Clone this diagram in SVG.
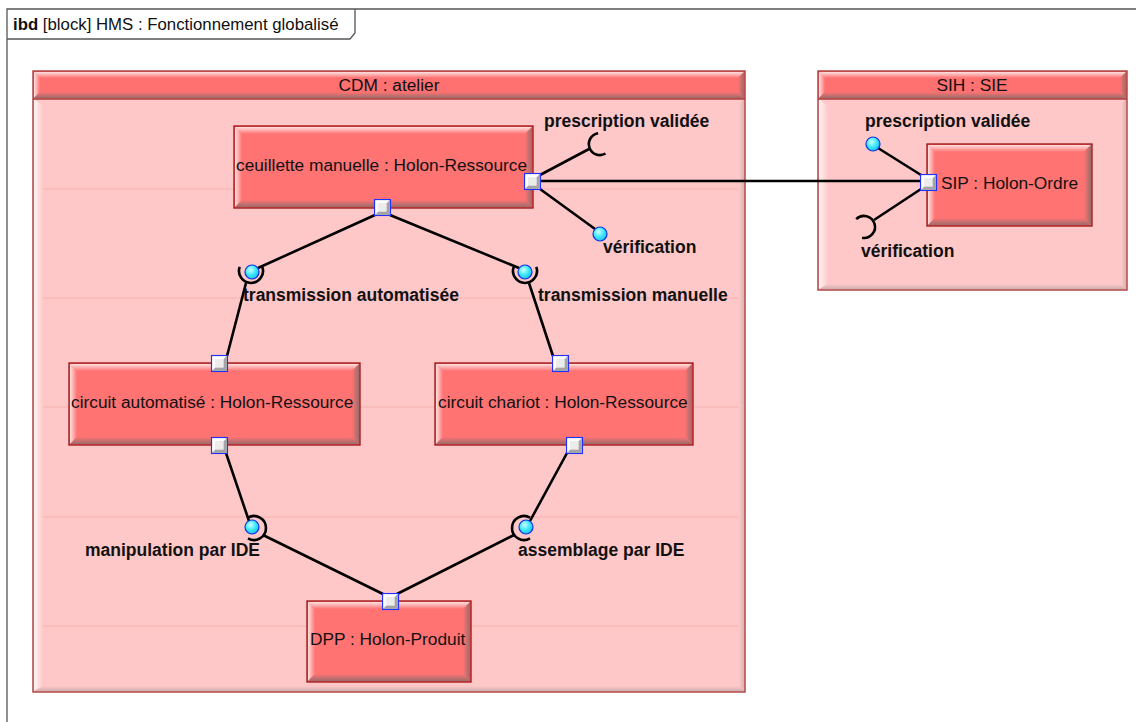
<svg xmlns="http://www.w3.org/2000/svg" width="1136" height="722" viewBox="0 0 1136 722">
<style>
.frame{fill:none;stroke:#555;stroke-width:1.3}
.cbody{fill:#ffc8c8}
.cedge{fill:none;stroke:#a83c3c;stroke-width:1.4}
.chead{fill:#ff7070}
.node{fill:#ff7373}
.nedge{fill:none;stroke:#9a1010;stroke-width:1.3}
.seam{stroke:#f7b0b0;stroke-width:1}
.t{font-family:"Liberation Sans",Arial,sans-serif;font-size:17.3px;fill:#111}
.tb{font-family:"Liberation Sans",Arial,sans-serif;font-size:17.5px;font-weight:bold;fill:#111}
.th{font-family:"Liberation Sans",Arial,sans-serif;font-size:17.3px;fill:#111;text-anchor:middle}
.c{fill:none;stroke:#000;stroke-width:2.6}
.sock{fill:none;stroke:#000;stroke-width:2.6}
.lol{fill:url(#cy);stroke:#1030e0;stroke-width:1.2}
</style>
<defs>
<radialGradient id="cy" cx="0.4" cy="0.35" r="0.7">
<stop offset="0" stop-color="#d0ffff"/>
<stop offset="0.5" stop-color="#40eaff"/>
<stop offset="1" stop-color="#18b8e8"/>
</radialGradient>
<linearGradient id="gT" x1="0" y1="0" x2="0" y2="1"><stop offset="0" stop-color="#ffe0e0"/><stop offset="1" stop-color="#ff7373"/></linearGradient>
<linearGradient id="gL" x1="0" y1="0" x2="1" y2="0"><stop offset="0" stop-color="#ffe0e0"/><stop offset="1" stop-color="#ff7373"/></linearGradient>
<linearGradient id="gB" x1="0" y1="0" x2="0" y2="1"><stop offset="0" stop-color="#ff7373"/><stop offset="1" stop-color="#9c6c6c"/></linearGradient>
<linearGradient id="gR" x1="0" y1="0" x2="1" y2="0"><stop offset="0" stop-color="#ff7373"/><stop offset="1" stop-color="#9c6c6c"/></linearGradient>
<linearGradient id="bL" x1="0" y1="0" x2="1" y2="0"><stop offset="0" stop-color="#fff4f4"/><stop offset="1" stop-color="#ffc8c8"/></linearGradient>
<linearGradient id="bB" x1="0" y1="0" x2="0" y2="1"><stop offset="0" stop-color="#ffc8c8"/><stop offset="1" stop-color="#d0b0b0"/></linearGradient>
<linearGradient id="bR" x1="0" y1="0" x2="1" y2="0"><stop offset="0" stop-color="#ffc8c8"/><stop offset="1" stop-color="#d8b4b4"/></linearGradient>
<symbol id="port" viewBox="0 0 17 17" width="17" height="17" overflow="visible">
<rect x="0.6" y="0.6" width="15.8" height="15.8" fill="#d8d8d8" stroke="#2030ff" stroke-width="1.3"/>
<polygon points="1.3,1.3 15.7,1.3 12.5,4.5 4.5,4.5 4.5,12.5 1.3,15.7" fill="#ffffff"/>
<polygon points="15.7,1.3 15.7,15.7 1.3,15.7 4.5,12.5 12.5,12.5 12.5,4.5" fill="#a4a4a4"/>
<rect x="4.5" y="4.5" width="8" height="8" fill="#ececec"/>
</symbol>
</defs>
<rect width="1136" height="722" fill="#fff"/>
<g id="frame">
<path class="frame" d="M7,722 V9 H1136"/>
<path class="frame" d="M7,39 H350 L355,33 V9"/>
<text x="13" y="30" font-family="'Liberation Sans',Arial,sans-serif" font-size="16.8" fill="#111"><tspan font-weight="bold">ibd</tspan> [block] HMS : Fonctionnement globalisé</text>
</g>
<g id="cdm">
<rect class="cbody" x="33" y="71" width="712" height="621"/>
<polygon fill="url(#bL)" points="34,99 43,106 43,686 34,691"/>
<polygon fill="url(#bB)" points="34,691 43,686 739,686 744,691"/>
<polygon fill="url(#bR)" points="739,104 744,99 744,691 739,686"/>
<line class="seam" x1="43" y1="189" x2="739" y2="189"/>
<line class="seam" x1="43" y1="298" x2="739" y2="298"/>
<line class="seam" x1="43" y1="407" x2="739" y2="407"/>
<line class="seam" x1="43" y1="517" x2="739" y2="517"/>
<line class="seam" x1="43" y1="626" x2="739" y2="626"/>
<rect class="chead" x="33" y="71" width="712" height="28"/>
<polygon fill="url(#gT)" points="34,72 744,72 738,78 40,78"/>
<polygon fill="url(#gL)" points="34,72 40,78 40,92 34,98"/>
<polygon fill="url(#gB)" points="34,98 40,92 738,92 744,98"/>
<polygon fill="url(#gR)" points="744,72 744,98 738,92 738,78"/>
<rect class="cedge" x="33" y="71" width="712" height="621"/>
<line class="cedge" x1="33" y1="99" x2="745" y2="99"/>
<text class="th" x="389" y="91">CDM : atelier</text>
</g>
<g id="sih">
<rect class="cbody" x="818" y="71" width="309" height="219"/>
<polygon fill="url(#bL)" points="819,99 828,106 828,284 819,289"/>
<polygon fill="url(#bB)" points="819,289 828,284 1121,284 1126,289"/>
<polygon fill="url(#bR)" points="1121,104 1126,99 1126,289 1121,284"/>
<rect class="chead" x="818" y="71" width="309" height="28"/>
<polygon fill="url(#gT)" points="819,72 1126,72 1120,78 825,78"/>
<polygon fill="url(#gL)" points="819,72 825,78 825,92 819,98"/>
<polygon fill="url(#gB)" points="819,98 825,92 1120,92 1126,98"/>
<polygon fill="url(#gR)" points="1126,72 1126,98 1120,92 1120,78"/>
<rect class="cedge" x="818" y="71" width="309" height="219"/>
<line class="cedge" x1="818" y1="99" x2="1127" y2="99"/>
<text class="th" x="972" y="91">SIH : SIE</text>
</g>
<g id="n-ceuillette">
<rect class="node" x="234" y="126" width="299" height="82"/>
<polygon fill="url(#gT)" points="235,127 532,127 525,134 242,134"/>
<polygon fill="url(#gL)" points="235,127 242,134 242,200 235,207"/>
<polygon fill="url(#gB)" points="235,207 242,200 525,200 532,207"/>
<polygon fill="url(#gR)" points="532,127 532,207 525,200 525,134"/>
<rect class="nedge" x="234" y="126" width="299" height="82"/>
<text class="t" x="236" y="171">ceuillette manuelle : Holon-Ressource</text>
</g>
<g id="n-circuit-auto">
<rect class="node" x="69" y="363" width="291" height="82"/>
<polygon fill="url(#gT)" points="70,364 359,364 352,371 77,371"/>
<polygon fill="url(#gL)" points="70,364 77,371 77,437 70,444"/>
<polygon fill="url(#gB)" points="70,444 77,437 352,437 359,444"/>
<polygon fill="url(#gR)" points="359,364 359,444 352,437 352,371"/>
<rect class="nedge" x="69" y="363" width="291" height="82"/>
<text class="t" x="71" y="408">circuit automatisé : Holon-Ressource</text>
</g>
<g id="n-circuit-chariot">
<rect class="node" x="435" y="363" width="258" height="82"/>
<polygon fill="url(#gT)" points="436,364 692,364 685,371 443,371"/>
<polygon fill="url(#gL)" points="436,364 443,371 443,437 436,444"/>
<polygon fill="url(#gB)" points="436,444 443,437 685,437 692,444"/>
<polygon fill="url(#gR)" points="692,364 692,444 685,437 685,371"/>
<rect class="nedge" x="435" y="363" width="258" height="82"/>
<text class="t" x="438" y="408">circuit chariot : Holon-Ressource</text>
</g>
<g id="n-dpp">
<rect class="node" x="307" y="601" width="164" height="81"/>
<polygon fill="url(#gT)" points="308,602 470,602 463,609 315,609"/>
<polygon fill="url(#gL)" points="308,602 315,609 315,674 308,681"/>
<polygon fill="url(#gB)" points="308,681 315,674 463,674 470,681"/>
<polygon fill="url(#gR)" points="470,602 470,681 463,674 463,609"/>
<rect class="nedge" x="307" y="601" width="164" height="81"/>
<text class="t" x="310" y="645">DPP : Holon-Produit</text>
</g>
<g id="n-sip">
<rect class="node" x="927" y="144" width="165" height="82"/>
<polygon fill="url(#gT)" points="928,145 1091,145 1084,152 935,152"/>
<polygon fill="url(#gL)" points="928,145 935,152 935,218 928,225"/>
<polygon fill="url(#gB)" points="928,225 935,218 1084,218 1091,225"/>
<polygon fill="url(#gR)" points="1091,145 1091,225 1084,218 1084,152"/>
<rect class="nedge" x="927" y="144" width="165" height="82"/>
<text class="t" x="941" y="189">SIP : Holon-Ordre</text>
</g>
<g id="connectors">
<line class="c" x1="541" y1="181" x2="920" y2="181"/>
<line class="c" x1="540" y1="175" x2="589" y2="149"/>
<line class="c" x1="540" y1="189" x2="595" y2="229"/>
<line class="c" x1="921" y1="175" x2="878" y2="148"/>
<line class="c" x1="921" y1="189" x2="874" y2="220"/>
<line class="c" x1="375" y1="215" x2="258" y2="268"/>
<line class="c" x1="390" y1="215" x2="519" y2="268"/>
<line class="c" x1="246" y1="283" x2="227" y2="356"/>
<line class="c" x1="529" y1="283" x2="553" y2="356"/>
<line class="c" x1="226" y1="453" x2="249" y2="521"/>
<line class="c" x1="567" y1="453" x2="530" y2="521"/>
<line class="c" x1="263" y1="535" x2="383" y2="594"/>
<line class="c" x1="514" y1="535" x2="397" y2="594"/>
</g>
<g id="ports">
<use href="#port" x="524" y="173"/>
<use href="#port" x="374" y="199"/>
<use href="#port" x="211" y="355"/>
<use href="#port" x="211" y="437"/>
<use href="#port" x="552" y="355"/>
<use href="#port" x="566" y="437"/>
<use href="#port" x="382" y="593"/>
<use href="#port" x="920" y="174"/>
</g>
<g id="interfaces">
<path class="sock" d="M598.1,133.2 A11,11 0 1 0 605.5,153.5"/>
<circle class="lol" cx="600" cy="234" r="7"/>
<text class="tb" x="544" y="127">prescription validée</text>
<text class="tb" x="603" y="253">vérification</text>
<path class="sock" d="M239.7,266.9 A12,12 0 1 0 262.3,266.9"/>
<circle class="lol" cx="252" cy="272" r="7"/>
<text class="tb" x="243" y="301">transmission automatisée</text>
<path class="sock" d="M513.7,266.9 A12,12 0 1 0 536.3,266.9"/>
<circle class="lol" cx="525" cy="272" r="7"/>
<text class="tb" x="538" y="301">transmission manuelle</text>
<path class="sock" d="M248,517.6 A12,12 0 1 1 248,538.4"/>
<circle class="lol" cx="252" cy="527" r="7"/>
<text class="tb" x="85" y="556">manipulation par IDE</text>
<path class="sock" d="M530,517.6 A12,12 0 1 0 530,538.4"/>
<circle class="lol" cx="526" cy="527" r="7"/>
<text class="tb" x="518" y="556">assemblage par IDE</text>
<circle class="lol" cx="873" cy="144" r="7"/>
<text class="tb" x="865" y="127">prescription validée</text>
<path class="sock" d="M856.2,219.2 A11,11 0 1 1 862.1,237.8"/>
<text class="tb" x="861" y="257">vérification</text>
</g>
</svg>
